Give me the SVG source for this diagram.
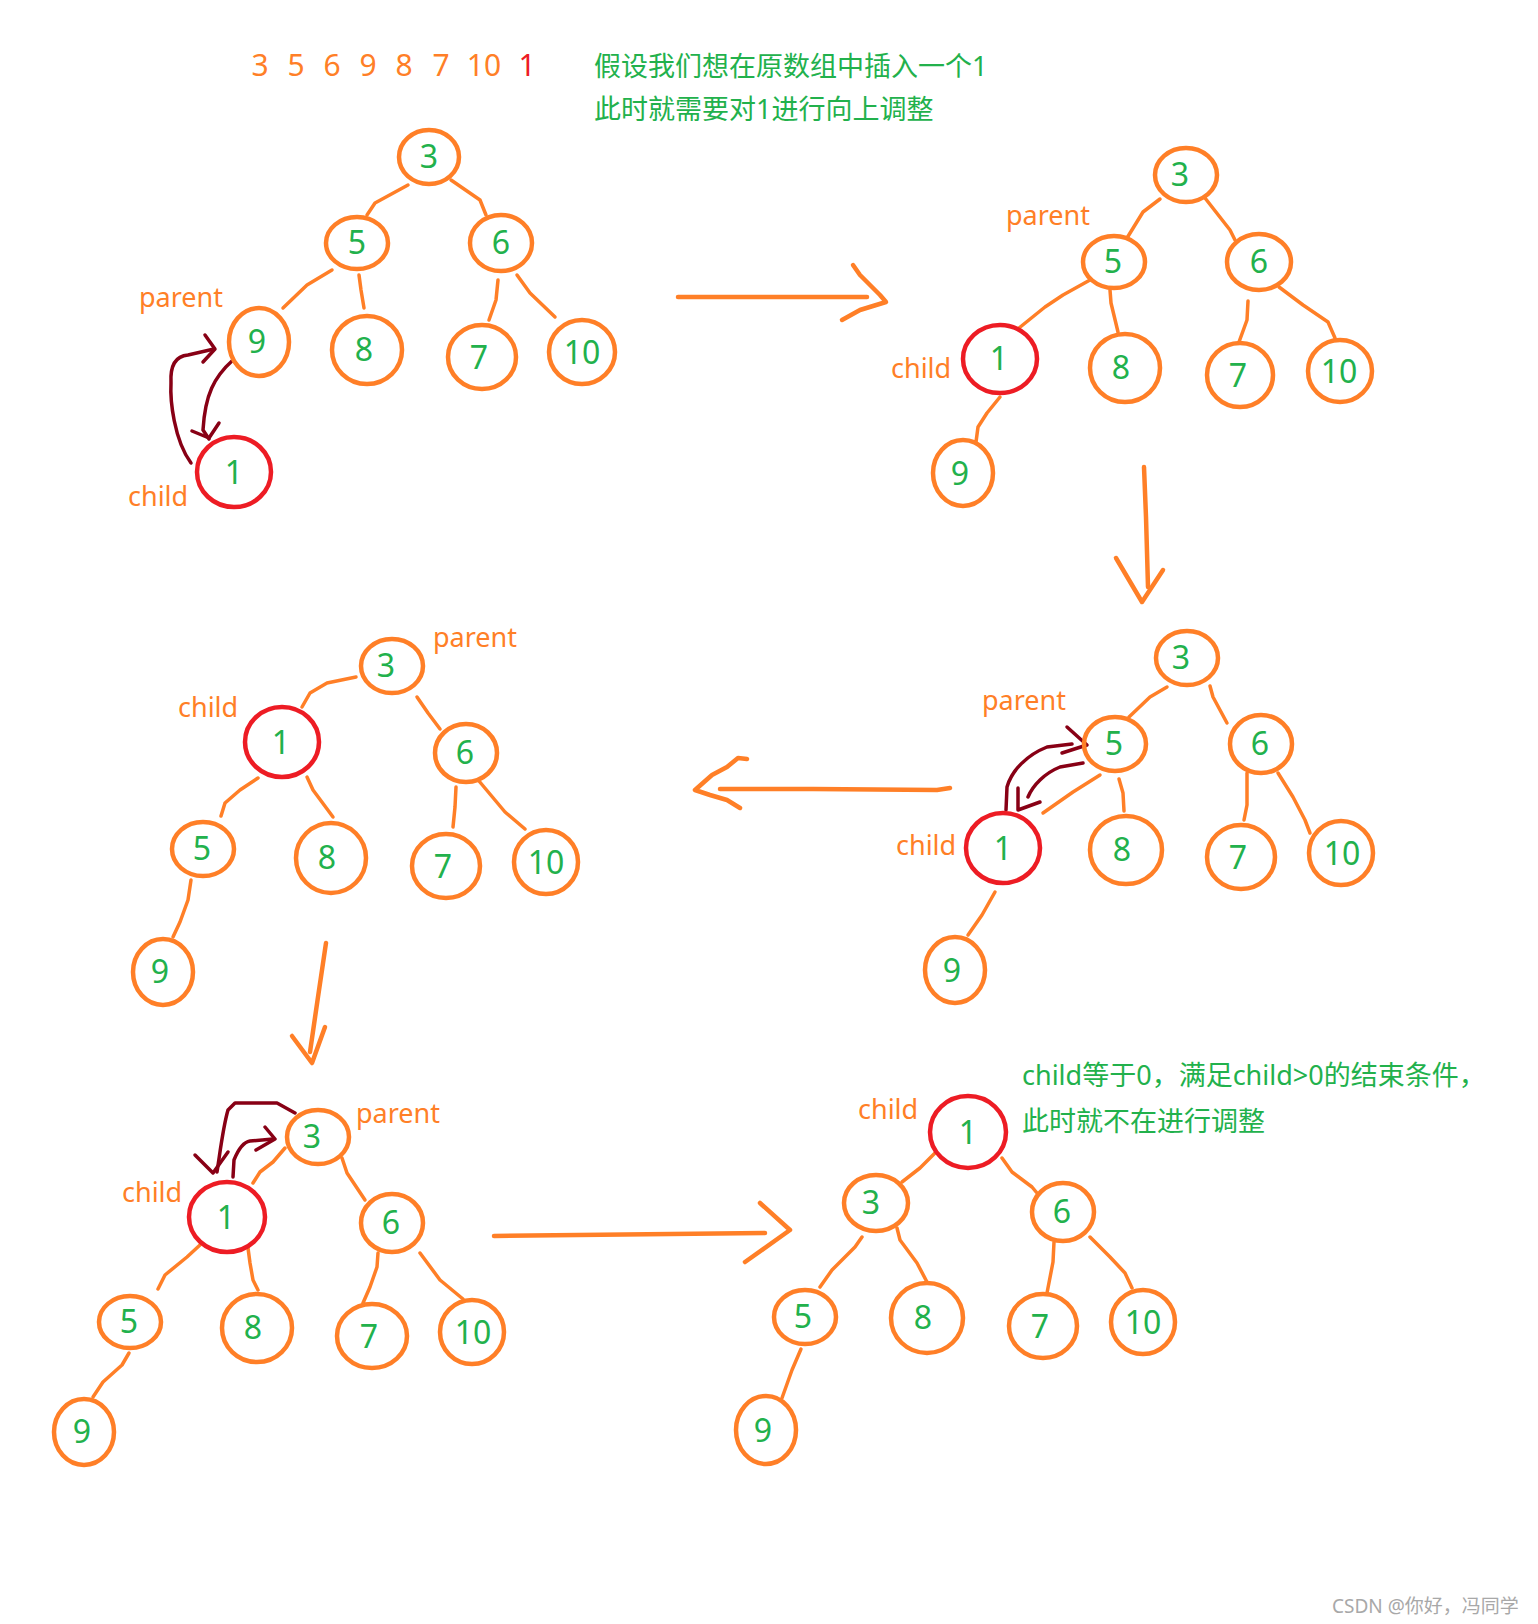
<svg xmlns="http://www.w3.org/2000/svg" width="1538" height="1624" viewBox="0 0 1538 1624">
<style>
.n{fill:none;stroke:#ff7f27;stroke-width:4.5}
.r{fill:none;stroke:#ed1c24;stroke-width:4.5}
.e{fill:none;stroke:#ff7f27;stroke-width:3.5;stroke-linecap:round;stroke-linejoin:round}
.a{fill:none;stroke:#ff7f27;stroke-width:4.5;stroke-linecap:round;stroke-linejoin:round}
.d{fill:none;stroke:#880015;stroke-width:3.5;stroke-linecap:round;stroke-linejoin:round}
.v{font-family:"Noto Sans","Open Sans",sans-serif;font-size:32px;fill:#22b14c;text-anchor:middle}
.l{font-family:"Noto Sans","Open Sans",sans-serif;font-size:27px;fill:#ff7f27}
.g{font-family:"Noto Sans","Noto Sans CJK SC",sans-serif;font-size:27px;fill:#22b14c}
.top{font-family:"Noto Sans","Open Sans",sans-serif;font-size:30px;fill:#ff7f27;text-anchor:middle}
.w{font-family:"Noto Sans","Noto Sans CJK SC",sans-serif;font-size:19px;fill:#a8a8a8}
</style>
<rect width="1538" height="1624" fill="#ffffff"/>

<text class="top" y="76"><tspan x="260">3</tspan><tspan x="296">5</tspan><tspan x="332">6</tspan><tspan x="368">9</tspan><tspan x="404">8</tspan><tspan x="441">7</tspan><tspan x="484">10</tspan><tspan x="527" fill="#ed1c24">1</tspan></text>
<text class="g" x="594" y="76">假设我们想在原数组中插入一个1</text>
<text class="g" x="594" y="119">此时就需要对1进行向上调整</text>
<text class="g" x="1022" y="1085">child等于0，满足child&gt;0的结束条件，</text>
<text class="g" x="1022" y="1131">此时就不在进行调整</text>
<text class="w" x="1332" y="1613">CSDN @你好，冯同学</text>

<g id="connectors">
<!-- tree 1 -->
<path class="e" d="M408,185 L375,203 L367,215"/>
<path class="e" d="M451,180 L480,200 L486,215"/>
<path class="e" d="M332,270 L307,285 L283,308"/>
<path class="e" d="M359,275 L361,290 L364,308"/>
<path class="e" d="M498,280 L496,300 L489,320"/>
<path class="e" d="M517,275 L530,293 L555,317"/>
<path class="d" d="M191,463 C174,440 170,400 171,383 C170,365 176,356 188,355 L214,349"/>
<path class="d" d="M205,335 L215,349 L203,362"/>
<path class="d" d="M233,360 C214,377 205,395 203,430 L209,439"/>
<path class="d" d="M192,431 L209,438 L219,423"/>
<!-- tree 2 -->
<path class="e" d="M1160,199 L1143,212 L1127,238"/>
<path class="e" d="M1205,198 L1230,230 L1235,240"/>
<path class="e" d="M1090,280 L1063,295 L1045,307 L1019,328"/>
<path class="e" d="M1110,290 L1111,303 L1118,332"/>
<path class="e" d="M1248,301 L1247,320 L1239,342"/>
<path class="e" d="M1279,287 L1303,305 L1328,322 L1335,338"/>
<path class="e" d="M1000,397 L987,413 L978,427 L976,442"/>
<!-- tree 3 -->
<path class="e" d="M1167,687 L1150,697 L1129,717"/>
<path class="e" d="M1210,686 L1213,697 L1227,723"/>
<path class="e" d="M1100,775 L1073,792 L1043,813"/>
<path class="e" d="M1119,779 L1123,793 L1124,811"/>
<path class="e" d="M1247,773 L1247,805 L1244,820"/>
<path class="e" d="M1278,773 L1293,797 L1305,820 L1310,833"/>
<path class="e" d="M995,892 L982,915 L968,935"/>
<path class="d" d="M1006,810 L1007,787 C1012,770 1027,755 1047,747 L1072,744"/>
<path class="d" d="M1067,727 L1087,745 L1062,753"/>
<path class="d" d="M1083,763 L1060,767 C1045,773 1033,785 1028,797"/>
<path class="d" d="M1018,788 L1018,810 L1040,802"/>
<!-- tree 4 -->
<path class="e" d="M356,677 L327,683 L310,693 L302,707"/>
<path class="e" d="M417,697 L428,713 L440,729"/>
<path class="e" d="M258,778 L240,790 L225,803 L221,816"/>
<path class="e" d="M307,777 L313,790 L333,817"/>
<path class="e" d="M456,787 L455,807 L453,827"/>
<path class="e" d="M479,781 L505,812 L525,829"/>
<path class="e" d="M191,880 L188,900 L180,922 L173,937"/>
<!-- tree 5 -->
<path class="e" d="M285,1148 L273,1162 L260,1172 L253,1183"/>
<path class="e" d="M342,1158 L347,1173 L365,1200"/>
<path class="e" d="M200,1245 L187,1257 L165,1275 L158,1289"/>
<path class="e" d="M248,1248 L250,1263 L253,1280 L258,1290"/>
<path class="e" d="M378,1253 L377,1267 L370,1287 L363,1303"/>
<path class="e" d="M420,1253 L440,1280 L463,1299"/>
<path class="e" d="M129,1353 L122,1365 L103,1382 L93,1397"/>
<path class="d" d="M295,1113 L277,1103 L235,1103 L228,1110 C223,1127 220,1153 217,1172"/>
<path class="d" d="M195,1155 L213,1173 L228,1152"/>
<path class="d" d="M233,1177 L234,1160 C238,1150 244,1142 250,1141 L273,1139"/>
<path class="d" d="M265,1127 L275,1139 L256,1150"/>
<!-- tree 6 -->
<path class="e" d="M935,1153 L920,1168 L902,1182"/>
<path class="e" d="M1002,1158 L1012,1172 L1032,1187 L1037,1193"/>
<path class="e" d="M862,1237 L855,1247 L832,1270 L820,1287"/>
<path class="e" d="M897,1228 L900,1240 L917,1263 L927,1282"/>
<path class="e" d="M1054,1242 L1053,1262 L1047,1293"/>
<path class="e" d="M1090,1237 L1110,1257 L1125,1273 L1132,1288"/>
<path class="e" d="M801,1349 L792,1370 L782,1398"/>
<!-- big step arrows -->
<path class="a" d="M678,297 L867,297"/>
<path class="a" d="M853,265 L860,275 L880,295 L886,302 L873,306 L860,310 L842,320"/>
<path class="a" d="M1144,467 L1146,517 L1148,587"/>
<path class="a" d="M1116,558 L1142,602 L1163,570"/>
<path class="a" d="M950,788 L937,790 L813,789 L720,789"/>
<path class="a" d="M747,759 L738,758 L727,767 L712,775 L695,790 L710,795 L727,800 L740,808"/>
<path class="a" d="M326,943 L318,997 L310,1052"/>
<path class="a" d="M292,1036 L312,1063 L325,1027"/>
<path class="a" d="M494,1236 L765,1233"/>
<path class="a" d="M760,1203 L790,1230 L745,1262"/>
</g>

<!-- tree 1 -->
<g id="t1-n3"><ellipse class="n" cx="429" cy="157" rx="30" ry="27"/><text class="v" x="429" y="168">3</text></g>
<g id="t1-n5"><ellipse class="n" cx="357" cy="243" rx="31" ry="26"/><text class="v" x="357" y="254">5</text></g>
<g id="t1-n6"><ellipse class="n" cx="501" cy="243" rx="31" ry="28"/><text class="v" x="501" y="254">6</text></g>
<g id="t1-n9"><ellipse class="n" cx="259" cy="342" rx="30" ry="34"/><text class="v" x="257" y="353">9</text></g>
<g id="t1-n8"><ellipse class="n" cx="367" cy="350" rx="35" ry="34"/><text class="v" x="364" y="361">8</text></g>
<g id="t1-n7"><ellipse class="n" cx="482" cy="357" rx="34" ry="32"/><text class="v" x="479" y="369">7</text></g>
<g id="t1-n10"><ellipse class="n" cx="582" cy="352" rx="33" ry="32"/><text class="v" x="582" y="364">10</text></g>
<g id="t1-n1"><ellipse class="r" cx="234" cy="472" rx="37" ry="35"/><text class="v" x="234" y="484">1</text></g>
<text class="l" x="139" y="307">parent</text>
<text class="l" x="128" y="506">child</text>

<!-- tree 2 -->
<g id="t2-n3"><ellipse class="n" cx="1186" cy="175" rx="31" ry="27"/><text class="v" x="1180" y="186">3</text></g>
<g id="t2-n5"><ellipse class="n" cx="1114" cy="262" rx="31" ry="26"/><text class="v" x="1113" y="273">5</text></g>
<g id="t2-n6"><ellipse class="n" cx="1259" cy="262" rx="32" ry="28"/><text class="v" x="1259" y="273">6</text></g>
<g id="t2-n1"><ellipse class="r" cx="1000" cy="359" rx="37" ry="34"/><text class="v" x="999" y="370">1</text></g>
<g id="t2-n8"><ellipse class="n" cx="1125" cy="368" rx="35" ry="34"/><text class="v" x="1121" y="379">8</text></g>
<g id="t2-n7"><ellipse class="n" cx="1240" cy="375" rx="33" ry="32"/><text class="v" x="1238" y="387">7</text></g>
<g id="t2-n10"><ellipse class="n" cx="1340" cy="371" rx="32" ry="31"/><text class="v" x="1339" y="383">10</text></g>
<g id="t2-n9"><ellipse class="n" cx="963" cy="473" rx="30" ry="33"/><text class="v" x="960" y="485">9</text></g>
<text class="l" x="1006" y="225">parent</text>
<text class="l" x="891" y="378">child</text>

<!-- tree 3 -->
<g id="t3-n3"><ellipse class="n" cx="1187" cy="658" rx="31" ry="27"/><text class="v" x="1181" y="669">3</text></g>
<g id="t3-n5"><ellipse class="n" cx="1115" cy="744" rx="31" ry="27"/><text class="v" x="1114" y="755">5</text></g>
<g id="t3-n6"><ellipse class="n" cx="1261" cy="744" rx="31" ry="29"/><text class="v" x="1260" y="755">6</text></g>
<g id="t3-n1"><ellipse class="r" cx="1003" cy="848" rx="37" ry="35"/><text class="v" x="1003" y="860">1</text></g>
<g id="t3-n8"><ellipse class="n" cx="1126" cy="850" rx="36" ry="34"/><text class="v" x="1122" y="861">8</text></g>
<g id="t3-n7"><ellipse class="n" cx="1241" cy="857" rx="34" ry="32"/><text class="v" x="1238" y="869">7</text></g>
<g id="t3-n10"><ellipse class="n" cx="1341" cy="853" rx="32" ry="32"/><text class="v" x="1342" y="865">10</text></g>
<g id="t3-n9"><ellipse class="n" cx="955" cy="970" rx="30" ry="33"/><text class="v" x="952" y="982">9</text></g>
<text class="l" x="982" y="710">parent</text>
<text class="l" x="896" y="855">child</text>

<!-- tree 4 -->
<g id="t4-n3"><ellipse class="n" cx="392" cy="666" rx="31" ry="27"/><text class="v" x="386" y="677">3</text></g>
<g id="t4-n1"><ellipse class="r" cx="282" cy="742" rx="37" ry="35"/><text class="v" x="281" y="754">1</text></g>
<g id="t4-n6"><ellipse class="n" cx="466" cy="753" rx="31" ry="29"/><text class="v" x="465" y="764">6</text></g>
<g id="t4-n5"><ellipse class="n" cx="203" cy="849" rx="31" ry="27"/><text class="v" x="202" y="860">5</text></g>
<g id="t4-n8"><ellipse class="n" cx="331" cy="858" rx="35" ry="35"/><text class="v" x="327" y="869">8</text></g>
<g id="t4-n7"><ellipse class="n" cx="446" cy="866" rx="34" ry="32"/><text class="v" x="443" y="878">7</text></g>
<g id="t4-n10"><ellipse class="n" cx="546" cy="862" rx="32" ry="32"/><text class="v" x="546" y="874">10</text></g>
<g id="t4-n9"><ellipse class="n" cx="163" cy="972" rx="30" ry="33"/><text class="v" x="160" y="983">9</text></g>
<text class="l" x="433" y="647">parent</text>
<text class="l" x="178" y="717">child</text>

<!-- tree 5 -->
<g id="t5-n3"><ellipse class="n" cx="318" cy="1137" rx="31" ry="27"/><text class="v" x="312" y="1148">3</text></g>
<g id="t5-n1"><ellipse class="r" cx="227" cy="1217" rx="38" ry="35"/><text class="v" x="226" y="1229">1</text></g>
<g id="t5-n6"><ellipse class="n" cx="392" cy="1223" rx="31" ry="29"/><text class="v" x="391" y="1234">6</text></g>
<g id="t5-n5"><ellipse class="n" cx="130" cy="1322" rx="31" ry="26"/><text class="v" x="129" y="1333">5</text></g>
<g id="t5-n8"><ellipse class="n" cx="257" cy="1328" rx="35" ry="34"/><text class="v" x="253" y="1339">8</text></g>
<g id="t5-n7"><ellipse class="n" cx="372" cy="1336" rx="35" ry="32"/><text class="v" x="369" y="1348">7</text></g>
<g id="t5-n10"><ellipse class="n" cx="472" cy="1332" rx="32" ry="32"/><text class="v" x="473" y="1344">10</text></g>
<g id="t5-n9"><ellipse class="n" cx="84" cy="1432" rx="30" ry="33"/><text class="v" x="82" y="1443">9</text></g>
<text class="l" x="356" y="1123">parent</text>
<text class="l" x="122" y="1202">child</text>

<!-- tree 6 -->
<g id="t6-n1"><ellipse class="r" cx="968" cy="1132" rx="38" ry="36"/><text class="v" x="968" y="1144">1</text></g>
<g id="t6-n3"><ellipse class="n" cx="876" cy="1203" rx="32" ry="28"/><text class="v" x="871" y="1214">3</text></g>
<g id="t6-n6"><ellipse class="n" cx="1063" cy="1212" rx="31" ry="29"/><text class="v" x="1062" y="1223">6</text></g>
<g id="t6-n5"><ellipse class="n" cx="805" cy="1317" rx="31" ry="27"/><text class="v" x="803" y="1328">5</text></g>
<g id="t6-n8"><ellipse class="n" cx="927" cy="1318" rx="36" ry="35"/><text class="v" x="923" y="1329">8</text></g>
<g id="t6-n7"><ellipse class="n" cx="1043" cy="1326" rx="34" ry="32"/><text class="v" x="1040" y="1338">7</text></g>
<g id="t6-n10"><ellipse class="n" cx="1143" cy="1322" rx="32" ry="32"/><text class="v" x="1143" y="1334">10</text></g>
<g id="t6-n9"><ellipse class="n" cx="766" cy="1430" rx="30" ry="34"/><text class="v" x="763" y="1442">9</text></g>
<text class="l" x="858" y="1119">child</text>
</svg>
